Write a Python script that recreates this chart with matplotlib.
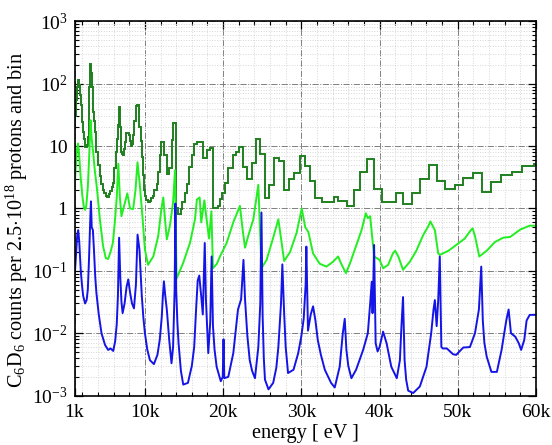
import numpy as np
import matplotlib
matplotlib.use("Agg")
import matplotlib.pyplot as plt
from matplotlib.ticker import FixedLocator, MultipleLocator, LogLocator, NullFormatter

plt.rcParams['font.family'] = ['Liberation Serif', 'DejaVu Serif']
plt.rcParams['mathtext.fontset'] = 'custom'
plt.rcParams['mathtext.rm'] = 'Liberation Serif'
plt.rcParams['mathtext.it'] = 'Liberation Serif:italic'

# [data]__________________________________________________________________________
# energies in keV

# coarse histogram (dark green), bin left edges + counts, last edge = 60
hist_edges = [1.0, 1.1, 1.2, 1.3, 1.4, 1.5, 1.6, 1.7, 1.8, 1.9, 2.0, 2.1, 2.2, 2.3, 2.4,
              2.5, 2.6, 2.7, 2.8, 2.9, 3.0, 3.1, 3.2, 3.3, 3.4, 3.5, 3.6, 3.7, 3.8, 4.0,
              4.2, 4.4, 4.6, 4.8, 5.0, 5.2, 5.4, 5.6, 5.8, 5.95, 6.1, 6.25, 6.4, 6.55,
              6.65, 6.8, 6.9, 7.05, 7.2, 7.35, 7.45, 7.6, 7.75, 7.95, 8.1, 8.2, 8.35,
              8.5, 8.65, 8.8, 8.9, 9.05, 9.2, 9.3, 9.45, 9.6, 9.75, 9.9, 10.05, 10.2,
              10.4, 10.6, 10.8, 11.0, 11.2, 11.5, 11.7, 11.9, 12.1, 12.5, 12.8, 13.1,
              13.4, 13.6, 13.96, 14.25, 14.55, 14.8, 15.1, 15.4, 15.7, 16.0, 16.25,
              16.6, 17.45, 17.9, 18.3, 18.7, 19.3, 19.6, 19.9, 20.2, 20.6, 21.2, 21.6,
              22.05, 22.56, 23.07, 23.7, 24.2, 24.77, 25.3, 25.9, 26.5, 27.15, 27.8,
              28.43, 29.0, 29.85, 30.5, 31.1, 31.76, 32.6, 33.46, 34.2, 34.74, 35.8,
              36.7, 37.5, 38.4, 39.3, 40.3, 42.1, 43.05, 44.1, 45.2, 46.3, 47.3, 48.4,
              49.6, 50.7, 51.9, 53.1, 54.3, 55.5, 56.9, 58.2, 59.7, 60.0]
hist_counts = [18, 30, 55, 90, 112, 115, 95, 65, 45, 33, 24, 17, 13, 10, 9.5,
               9.8, 10.5, 14, 30, 90, 210, 150, 90, 55, 35, 25, 17, 12, 8, 5,
               3.3, 2.5, 2.0, 1.75, 1.6, 1.55, 1.7, 1.9, 2.2, 2.6, 4.5, 8, 13, 22,
               43, 20, 8, 7.5, 7.2, 9, 11.7, 16, 16.5, 15, 12, 10, 11,
               15, 25, 38, 44, 45, 36, 20, 12, 6.7, 3.5, 2.0, 1.6, 1.35,
               1.29, 1.3, 1.45, 1.6, 1.97, 2.5, 3.9, 7.2, 11.7, 7.2, 3.55, 4.4,
               12.5, 23.6, 1.0, 0.83, 0.99, 1.27, 1.74, 2.5, 4.7, 7.2, 11,
               11.5, 6.5, 8.6, 9.2, 1.0, 1.1, 1.4, 1.74, 2.6, 4.4, 7.2, 8.1,
               9.8, 4.7, 2.95, 5.3, 12.8, 7.6, 1.46, 2.4, 6.5, 5.75, 2.0,
               2.95, 3.7, 6.9, 4.8, 2.75, 1.46, 1.25, 1.27, 1.5, 1.32, 1.1,
               2.0, 3.9, 6.1, 2.05, 1.29, 1.76, 1.17, 1.76, 2.94, 4.97, 2.8, 2.04,
               2.4, 3.1, 3.75, 1.87, 2.7, 3.4, 3.8, 4.85, 5.15]

# medium resolution (light green)
mid_e = [1.0, 1.15, 1.3, 1.45, 1.6, 1.8, 2.0, 2.2, 2.35, 2.5, 2.7, 2.9, 3.05, 3.2, 3.4,
         3.6, 3.85, 4.25, 4.65, 5.0, 5.3, 5.6, 5.9, 6.15, 6.4, 6.6, 6.8, 7.0, 7.3,
         7.75, 8.1, 8.5, 8.8, 9.05, 9.35, 9.7, 10.0, 10.4, 11.07, 11.7, 12.1, 12.35,
         12.6, 12.8, 13.2, 13.6, 13.85, 14.05, 14.9, 15.76, 16.4, 16.65, 17.0, 17.2,
         17.6, 17.9, 18.2, 18.5, 18.7, 19.2, 19.6, 20.45, 21.3, 22.15, 22.5, 22.8,
         23.2, 23.86, 24.5, 24.9, 25.56, 26.4, 27.06, 27.3, 27.8, 28.55, 29.4, 30.05,
         30.5, 30.9, 31.5, 32.35, 33.2, 34.05, 34.7, 35.1, 35.7, 36.2, 37.04, 37.7,
         38.24, 38.5, 38.8, 39.3, 40.0, 40.46, 41.1, 41.7, 42.0, 42.4, 43.0, 43.87,
         44.7, 45.6, 46.2, 46.5, 47.07, 47.5, 47.7, 48.8, 49.8, 50.9, 51.55, 51.9,
         52.2, 52.75, 53.7, 54.75, 55.8, 56.7, 58.0, 59.2, 60.0]
mid_y = [2.0, 4.5, 8.5, 11, 7, 3, 1.6, 1.05, 0.95, 1.1, 2.2, 8, 26, 13, 7.6,
         4, 2.2, 0.66, 0.25, 0.16, 0.155, 0.2, 0.28, 0.6, 1.5, 5.2, 1.5, 0.75, 1.05,
         1.75, 1.0, 0.98, 2, 5.5, 2.4, 0.7, 0.22, 0.125, 0.17, 0.36, 0.97, 1.5,
         0.6, 0.32, 0.53, 1.25, 4.1, 0.075, 0.135, 0.28, 0.67, 1.4, 1.5, 0.6,
         1.35, 0.65, 0.33, 0.9, 0.11, 0.13, 0.17, 0.28, 0.6, 1.1, 0.45, 0.235,
         0.36, 0.67, 2.4, 0.11, 0.15, 0.34, 0.67, 0.41, 0.144, 0.2, 0.41, 1.0,
         0.5, 0.42, 0.19, 0.13, 0.117, 0.14, 0.17, 0.13, 0.092, 0.13, 0.26, 0.45,
         0.84, 0.7, 0.75, 0.17, 0.15, 0.11, 0.125, 0.19, 0.21, 0.17, 0.104, 0.14,
         0.21, 0.38, 0.51, 0.62, 0.45, 0.19, 0.18, 0.21, 0.26, 0.33, 0.43, 0.48,
         0.36, 0.17, 0.21, 0.29, 0.34, 0.35, 0.46, 0.53, 0.53]

# fine resolution (blue)
fine_e = [1.0, 1.1, 1.2, 1.35, 1.47, 1.6, 1.7, 1.8, 1.95, 2.1, 2.35, 2.55, 2.7, 2.85, 3.0,
          3.1, 3.2, 3.35, 3.5, 3.65, 3.8, 4.1, 4.45, 4.9, 5.3, 5.6, 5.95, 6.2, 6.4, 6.55,
          6.7, 6.85, 7.0, 7.15, 7.4, 7.65, 7.87, 8.1, 8.35, 8.6, 8.85, 9.06, 9.3, 9.45,
          9.6, 9.8, 10.0, 10.3, 10.64, 11.15, 11.6, 11.9, 12.15, 12.3, 12.43, 12.6, 12.8,
          13.1, 13.4, 13.6, 13.8, 13.9, 14.0, 14.15, 14.3, 14.6, 14.9, 15.5, 16.0, 16.3,
          16.55, 16.75, 16.95, 17.2, 17.4, 17.55, 17.65, 17.8, 18.1, 18.35, 18.53, 18.7,
          18.9, 19.17, 19.7, 19.95, 20.05, 20.15, 20.66, 21.3, 21.9, 22.3, 22.6, 22.8,
          23.1, 23.4, 23.7, 24.07, 24.5, 24.75, 24.9, 25.05, 25.2, 25.35, 25.8, 26.4,
          26.8, 27.06, 27.4, 27.57, 27.8, 28.0, 28.3, 29.0, 29.6, 30.0, 30.3, 30.55,
          30.64, 30.85, 31.2, 31.5, 31.8, 32.1, 32.5, 33.0, 33.8, 34.27, 34.9, 35.3,
          35.55, 35.76, 36.0, 36.4, 37.0, 37.9, 38.5, 38.8, 39.0, 39.1, 39.2, 39.3,
          39.5, 39.75, 40.0, 40.45, 40.9, 41.5, 42.2, 42.6, 42.8, 43.0, 43.2, 43.4,
          43.66, 44.3, 45.15, 46.0, 46.6, 46.9, 47.07, 47.3, 47.5, 47.7, 47.9, 48.1,
          48.6, 49.4, 49.8, 50.7, 51.55, 52.2, 52.7, 53.0, 53.2, 53.4, 53.7, 54.3, 55.0,
          55.6, 56.2, 56.5, 56.8, 57.35, 57.8, 58.1, 58.5, 58.8, 59.2, 60.0]
fine_y = [0.075, 0.12, 0.2, 0.38, 0.45, 0.3, 0.17, 0.1, 0.06, 0.04, 0.03, 0.034, 0.05, 0.15,
          0.6, 1.3, 0.5, 0.45, 0.2, 0.08, 0.044, 0.02, 0.01, 0.0065, 0.0054, 0.0057, 0.0052,
          0.0075, 0.014, 0.04, 0.34, 0.08, 0.032, 0.021, 0.03, 0.055, 0.073, 0.045, 0.03, 0.025,
          0.06, 0.38, 0.22, 0.09, 0.04, 0.018, 0.01, 0.0055, 0.0037, 0.0032, 0.0045, 0.0079,
          0.018, 0.04, 0.068, 0.04, 0.024, 0.008, 0.0033, 0.006, 0.05, 1.2, 0.05, 0.015, 0.007,
          0.0025, 0.0015, 0.0016, 0.003, 0.006, 0.025, 0.07, 0.084, 0.039, 0.02, 0.1, 0.28,
          0.035, 0.0048, 0.015, 0.17, 0.013, 0.0055, 0.0029, 0.0017, 0.002, 0.008, 0.0019,
          0.002, 0.0048, 0.024, 0.035, 0.15, 0.035, 0.009, 0.0037, 0.0025, 0.0019, 0.006, 0.03,
          0.86, 0.019, 0.004, 0.0018, 0.00126, 0.0016, 0.0028, 0.006, 0.03, 0.127, 0.021,
          0.006, 0.0023, 0.0026, 0.0048, 0.009, 0.017, 0.06, 0.245, 0.011, 0.02, 0.027, 0.016,
          0.0078, 0.0045, 0.0026, 0.0016, 0.00135, 0.0029, 0.01, 0.017, 0.0054, 0.003, 0.0019,
          0.0026, 0.0054, 0.01, 0.03, 0.067, 0.021, 0.063, 0.26, 0.0069, 0.0051, 0.006,
          0.0106, 0.0069, 0.0029, 0.0019, 0.0037, 0.013, 0.038, 0.0037, 0.0018, 0.0012,
          0.0011, 0.0014, 0.0029, 0.01, 0.024, 0.034, 0.013, 0.034, 0.17, 0.006, 0.0057,
          0.0057, 0.0046, 0.0045, 0.0059, 0.006, 0.01, 0.024, 0.117, 0.016, 0.007, 0.0042,
          0.0024, 0.0024, 0.0054, 0.016, 0.024, 0.01, 0.0088, 0.0069, 0.0054, 0.0078, 0.016,
          0.0197, 0.0197]

x_ticks = [1000, 10000, 20000, 30000, 40000, 50000, 60000]
x_labels = ['1k', '10k', '20k', '30k', '40k', '50k', '60k']
y_ticks = [1e-3, 1e-2, 1e-1, 1, 10, 1e2, 1e3]
y_labels = [r'$10^{-3}$', r'$10^{-2}$', r'$10^{-1}$', '1', '10', r'$10^{2}$', r'$10^{3}$']

# [plot]__________________________________________________________________________

fig = plt.figure(figsize=(5.52, 4.45), dpi=100)
ax = fig.add_axes([0.135, 0.111, 0.836, 0.841])

kev = 1000.0
ax.stairs(hist_counts, np.array(hist_edges) * kev, color='#1f7f1f', lw=1.4, baseline=None)
ax.plot(np.array(mid_e) * kev, mid_y, color='#22ee22', lw=1.4)
ax.plot(np.array(fine_e) * kev, fine_y, color='#1414e6', lw=1.4)

ax.set_yscale('log')
ax.set_xlim(1000, 60000)
ax.set_ylim(1e-3, 1e3)

ax.xaxis.set_major_locator(FixedLocator(x_ticks))
ax.set_xticklabels(x_labels)
ax.xaxis.set_minor_locator(MultipleLocator(2000))
ax.yaxis.set_major_locator(FixedLocator(y_ticks))
ax.set_yticklabels(y_labels)
ax.yaxis.set_minor_locator(LogLocator(base=10, subs=np.arange(2, 10), numticks=20))
ax.yaxis.set_minor_formatter(NullFormatter())

ax.tick_params(which='both', direction='in', top=True, right=True, labelsize=14)
ax.tick_params(which='major', length=6, width=0.9)
ax.tick_params(axis='x', which='major', pad=6)
ax.tick_params(axis='y', which='major', pad=5)
ax.tick_params(which='minor', length=3, width=0.8)

ax.grid(which='major', color='#808080', ls='-.', lw=0.7)
ax.grid(which='minor', color='#d6d6d6', ls=':', lw=0.7)
ax.set_axisbelow(True)

for s in ax.spines.values():
    s.set_linewidth(1.2)

ax.set_xlabel('energy [ eV ]', fontsize=14.6, labelpad=2)
ax.set_ylabel(r'C$_6$D$_6$ counts per 2.5$\cdot$10$^{18}$ protons and bin', fontsize=14.6)
ax.yaxis.set_label_coords(-0.097, 0.47)

fig.savefig('out.png', dpi=100)
